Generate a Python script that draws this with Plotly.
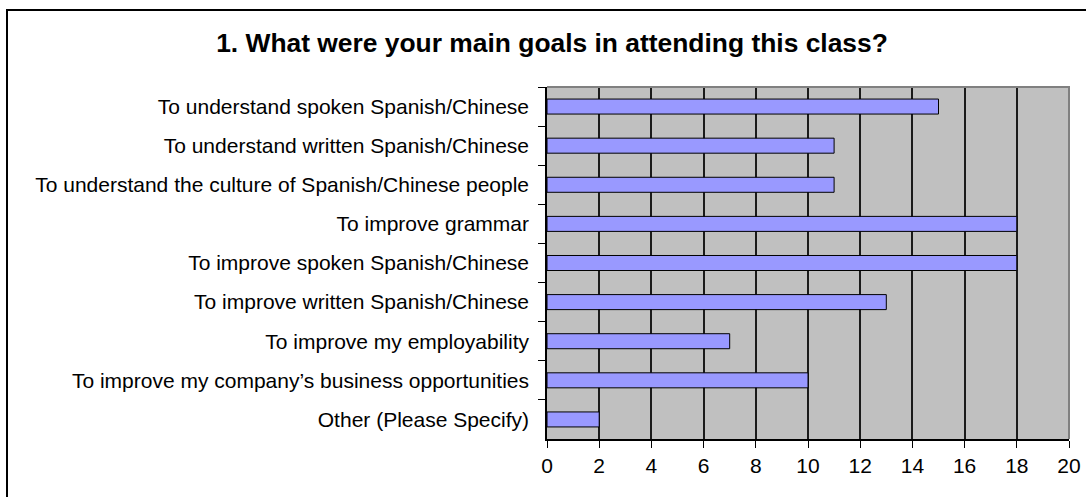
import plotly.graph_objects as go

categories = [
    "To understand spoken Spanish/Chinese",
    "To understand written Spanish/Chinese",
    "To understand the culture of Spanish/Chinese people",
    "To improve grammar",
    "To improve spoken Spanish/Chinese",
    "To improve written Spanish/Chinese",
    "To improve my employability",
    "To improve my company\u2019s business opportunities",
    "Other (Please Specify)",
]
values = [15, 11, 11, 18, 18, 13, 7, 10, 2]
x_ticks = [0, 2, 4, 6, 8, 10, 12, 14, 16, 18, 20]
title_text = "1. What were your main goals in attending this class?"

W, H = 1086, 497
L, R, T, B = 547, 1069, 87, 439

fig = go.Figure(
    go.Bar(
        x=values,
        y=categories,
        orientation="h",
        marker=dict(color="#9999FF", line=dict(color="black", width=1)),
        hoverinfo="x+y",
    )
)

fig.update_layout(
    width=W,
    height=H,
    margin=dict(l=L, r=W - R, t=T, b=H - B, autoexpand=False),
    paper_bgcolor="white",
    plot_bgcolor="#C0C0C0",
    bargap=0.616,
    showlegend=False,
    font=dict(family="Liberation Sans, Arial, sans-serif", size=21, color="black"),
    title=dict(
        text=title_text,
        x=552 / W,
        xanchor="center",
        y=1 - 43 / H,
        yanchor="middle",
        font=dict(family="Liberation Sans, Arial, sans-serif", size=26.4, color="black", weight="bold"),
    ),
)

fig.update_xaxes(
    range=[0, 20],
    tickvals=x_ticks,
    ticks="outside",
    ticklen=7,
    tickcolor="black",
    tickwidth=1,
    showline=True,
    linecolor="black",
    linewidth=1.5,
    showgrid=True,
    gridcolor="#1a1a1a",
    gridwidth=1.5,
    zeroline=False,
    automargin=False,
    tickfont=dict(size=21),
)
fig.update_yaxes(
    autorange="reversed",
    ticks="outside",
    tickson="boundaries",
    ticklen=7,
    tickcolor="black",
    tickwidth=1,
    showline=True,
    linecolor="black",
    linewidth=1.5,
    showgrid=False,
    zeroline=False,
    automargin=False,
    ticklabelstandoff=12,
    tickfont=dict(size=21),
)

pw, ph = R - L, B - T
# gray top/right frame of plot area
fig.add_shape(
    type="path",
    xref="paper", yref="paper",
    path="M 0,1 L 1,1 L 1,0",
    line=dict(color="#808080", width=2),
    layer="above",
)
# outer chart border
fig.add_shape(
    type="rect",
    xref="paper", yref="paper",
    x0=(7 - L) / pw, x1=(W + 10 - L) / pw,
    y0=(B - (H + 10)) / ph, y1=(B - 10) / ph,
    line=dict(color="black", width=2),
    fillcolor="rgba(0,0,0,0)",
    layer="above",
)

fig.write_html(
    "out.html",
    config={"displayModeBar": False},
    post_script="document.body.style.margin='0';document.body.style.overflow='hidden';",
)
